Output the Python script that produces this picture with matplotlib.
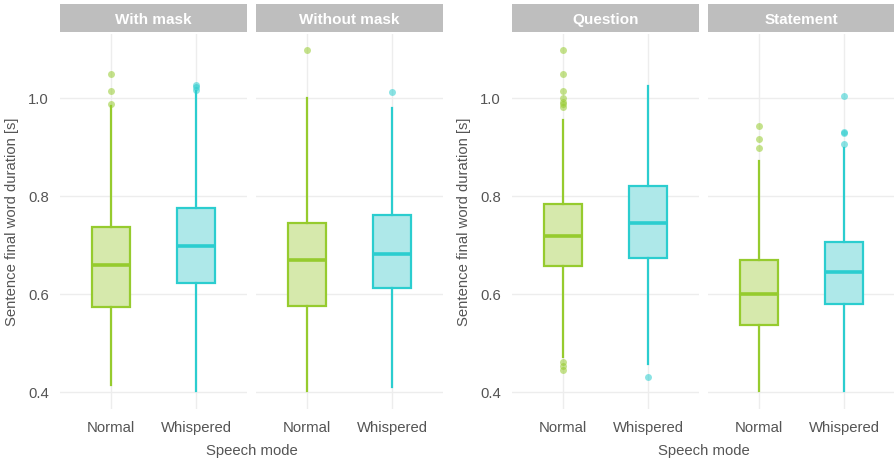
import matplotlib
matplotlib.use("Agg")
import matplotlib.pyplot as plt

plt.rcParams['font.family'] = ['Liberation Sans', 'DejaVu Sans']

modes = ["Normal", "Whispered"]
facets_left = ["With mask", "Without mask"]
facets_right = ["Question", "Statement"]
yticks = [0.4, 0.6, 0.8, 1.0]

# stats per facet: [Normal, Whispered] -> (whislo, q1, med, q3, whishi)
with_mask_stats = [(0.414, 0.573, 0.659, 0.737, 0.984), (0.402, 0.622, 0.698, 0.776, 1.015)]
with_mask_fliers = [[1.049, 1.014, 0.988], [1.026, 1.023, 1.017]]
without_mask_stats = [(0.402, 0.576, 0.669, 0.745, 1.000), (0.411, 0.613, 0.682, 0.762, 0.980)]
without_mask_fliers = [[1.097], [1.012]]
question_stats = [(0.471, 0.657, 0.718, 0.784, 0.955), (0.458, 0.674, 0.745, 0.821, 1.025)]
question_fliers = [[1.097, 1.049, 1.014, 1.001, 0.991, 0.987, 0.981, 0.461, 0.453, 0.444], [0.431]]
statement_stats = [(0.402, 0.537, 0.599, 0.669, 0.871), (0.402, 0.579, 0.644, 0.707, 0.898)]
statement_fliers = [[0.943, 0.916, 0.898], [1.005, 0.931, 0.929, 0.907]]

line_colors = ["#96CB2E", "#2BCDCF"]
fill_colors = ["#D6E9AC", "#AEE8E9"]

W, H = 895, 464
fig = plt.figure(figsize=(W / 100, H / 100), dpi=100)

ymin, ymax = 0.3653, 1.1306
text_col = "#555555"
grid_col = "#EDEDED"


def px_axes(x0, x1, y0, y1):
    return fig.add_axes([x0 / W, 1 - y1 / H, (x1 - x0) / W, (y1 - y0) / H])


def draw_facet(x0, x1, title, stats, fliers, show_y):
    ax = px_axes(x0, x1, 35, 410)
    for i, (st, fl) in enumerate(zip(stats, fliers)):
        d = dict(whislo=st[0], q1=st[1], med=st[2], q3=st[3], whishi=st[4], fliers=fl)
        lc, fc = line_colors[i], fill_colors[i]
        ax.bxp([d], positions=[i + 1], widths=0.45, patch_artist=True, showcaps=False,
               manage_ticks=False,
               boxprops=dict(facecolor=fc, edgecolor=lc, lw=1.6),
               whiskerprops=dict(color=lc, lw=1.6),
               medianprops=dict(color=lc, lw=2.6),
               flierprops=dict(marker='o', markersize=5, markerfacecolor=lc,
                               markeredgecolor='none', alpha=0.55))
    ax.set_xlim(0.4, 2.6)
    ax.set_ylim(ymin, ymax)
    for s in ax.spines.values():
        s.set_visible(False)
    ax.set_yticks(yticks)
    ax.set_yticklabels([f"{v:.1f}" for v in yticks] if show_y else [])
    ax.set_xticks([1, 2])
    ax.set_xticklabels(modes)
    ax.tick_params(length=0, labelsize=10.7, labelcolor=text_col, pad=8)
    ax.grid(True, color=grid_col, lw=1.0)
    ax.set_axisbelow(True)
    # strip
    sax = px_axes(x0, x1, 5, 33)
    sax.set_facecolor("#BEBEBE")
    sax.set_xticks([]); sax.set_yticks([])
    for s in sax.spines.values():
        s.set_visible(False)
    sax.text(0.5, 0.47, title, ha='center', va='center', color='white',
             fontsize=11, fontweight='bold', transform=sax.transAxes)
    return ax


draw_facet(60, 247, facets_left[0], with_mask_stats, with_mask_fliers, True)
draw_facet(256, 443, facets_left[1], without_mask_stats, without_mask_fliers, False)
draw_facet(512, 699, facets_right[0], question_stats, question_fliers, True)
draw_facet(708, 895, facets_right[1], statement_stats, statement_fliers, False)

fig.text(12 / W, 1 - 222 / H, "Sentence final word duration [s]", rotation=90,
         ha='center', va='center', fontsize=10.7, color=text_col)
fig.text(464 / W, 1 - 222 / H, "Sentence final word duration [s]", rotation=90,
         ha='center', va='center', fontsize=10.7, color=text_col)
fig.text(252 / W, 1 - 451 / H, "Speech mode", ha='center', va='center',
         fontsize=10.7, color=text_col)
fig.text(704 / W, 1 - 451 / H, "Speech mode", ha='center', va='center',
         fontsize=10.7, color=text_col)

fig.savefig("out.png", dpi=100)
